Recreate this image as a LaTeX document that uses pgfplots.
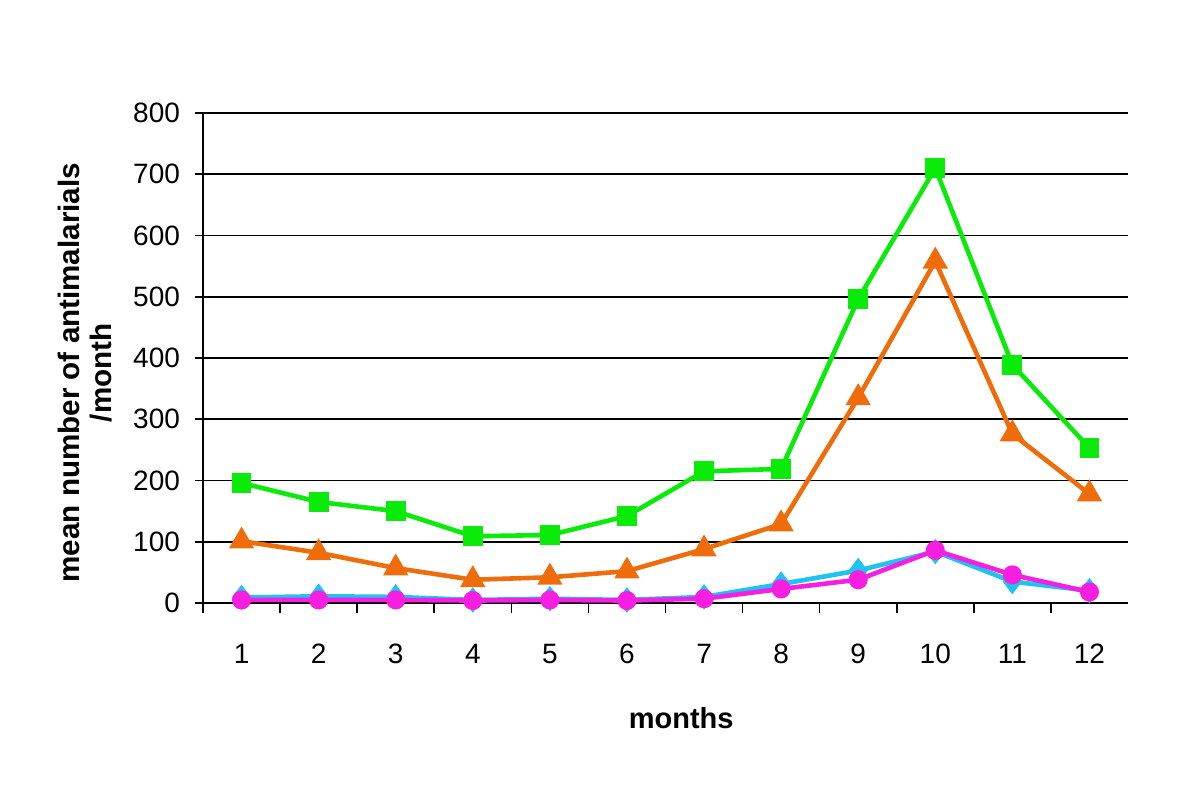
\documentclass[border=0pt]{standalone}
\usepackage{pgfplots}
\pgfplotsset{compat=1.18}
\usepackage{fontspec}
\setmainfont{Liberation Sans}

\definecolor{cgreen}{RGB}{10,235,10}
\definecolor{corange}{RGB}{238,108,10}
\definecolor{ccyan}{RGB}{30,195,240}
\definecolor{cmag}{RGB}{245,30,225}

\begin{document}
\begin{tikzpicture}
\path[use as bounding box] (-101.5pt,-103.5pt) rectangle (498.5pt,301.5pt);
\begin{axis}[
  at={(0,0)}, anchor=south west,
  scale only axis, width=462.5pt, height=245pt,
  xmin=0.5, xmax=12.5, ymin=0, ymax=800,
  axis x line*=bottom, axis y line*=left,
  axis line style={-, black, line width=0.8pt},
  xtick={1,...,12}, major x tick style={draw=none},
  minor xtick={0.5,1.5,...,11.5}, minor tick length=5pt,
  ytick={0,100,...,800}, major tick length=4pt, tick align=outside,
  tick style={black, line width=0.8pt},
  ymajorgrids, grid style={black, line width=0.85pt},
  /pgf/number format/assume math mode=true,
  tick label style={font=\fontsize{14}{17}\selectfont},
  xticklabel style={yshift=-13pt},
  yticklabel style={xshift=-4pt},
  xlabel={months},
  xlabel style={font=\fontsize{14.5}{17}\selectfont\bfseries, at={(axis description cs:0.517,-0.235)}, anchor=center},
  ylabel={mean number of antimalarials\\/month},
  ylabel style={font=\fontsize{14.8}{16}\selectfont\bfseries, align=center, at={(axis description cs:-0.127,0.47)}, anchor=center, rotate=0},
  every axis plot/.append style={line width=2.3pt},
]
\addplot[color=cgreen, mark=square*, mark size=3.8pt, mark options={solid}] coordinates {
  (1,196) (2,165) (3,150) (4,109) (5,111) (6,142) (7,215) (8,219) (9,496) (10,710) (11,389) (12,253)};
\addplot[color=corange, mark=triangle*, mark size=5pt] coordinates {
  (1,101) (2,82) (3,57) (4,38) (5,42) (6,52) (7,88) (8,129) (9,335) (10,558) (11,276) (12,178)};
\addplot[color=ccyan, mark=diamond*, mark size=4.5pt] coordinates {
  (1,9) (2,11) (3,10) (4,5) (5,7) (6,5) (7,10) (8,31) (9,53) (10,84) (11,35) (12,20)};
\addplot[color=cmag, mark=*, mark size=3.6pt] coordinates {
  (1,5) (2,5) (3,5) (4,4) (5,5) (6,4) (7,7) (8,23) (9,38) (10,86) (11,46) (12,18)};
\end{axis}
\end{tikzpicture}
\end{document}
